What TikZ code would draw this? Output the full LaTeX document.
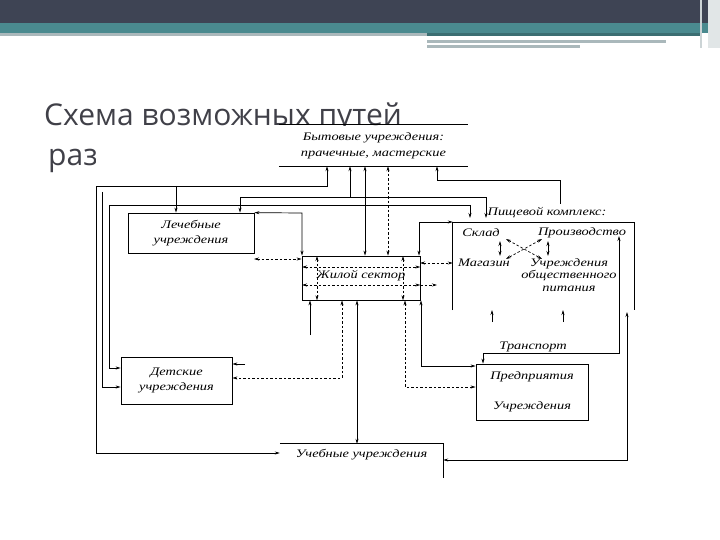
\documentclass[tikz,border=0pt]{standalone}
\usepackage{fontspec}
\setmainfont{Liberation Serif}
\newfontfamily\titlefont{Open Sans}
\newfontfamily\diagfont[FakeStretch=1.25]{Liberation Serif}
\usetikzlibrary{arrows.meta,positioning}
\definecolor{Band}{HTML}{3E4454}
\definecolor{Stripe}{HTML}{4A8A8F}
\definecolor{Pale}{HTML}{AAB8BB}
\definecolor{Ink}{HTML}{404048}

\begin{document}
\begin{tikzpicture}[x=1pt,y=-1pt,
    lbl/.style={font=\diagfont\itshape\fontsize{11.5}{15}\selectfont, inner sep=0pt, align=center},
    unit/.style={lbl, draw, line width=0.7pt},
    ln/.style={line width=0.7pt},
    arr/.style={ln, -{Stealth[length=5pt,width=3pt]}},
    dbl/.style={ln, {Stealth[length=5pt,width=3pt]}-{Stealth[length=5pt,width=3pt]}},
    dsh/.style={dbl, dashed, dash pattern=on 2.5pt off 2pt}
  ]
  % slide
  \useasboundingbox (0,0) rectangle (720,540);
  \fill[Band] (0,0) rectangle (720,23);
  \fill[Stripe] (0,23) rectangle (720,33);
  \fill[Pale] (0,33) rectangle (427,36);
  \fill[Stripe!80!black] (427,33) rectangle (700,36);
  \fill[Pale] (427,40) rectangle (666,43);
  \fill[Pale] (427,45) rectangle (580,48);
  \fill[Pale!60] (700,0) rectangle (702,48);
  \fill[Pale!35] (708,0) rectangle (720,48);
  \node[font=\titlefont\fontsize{30}{36}\selectfont, text=Ink, anchor=base west, inner sep=0pt, text depth=0pt] (title) at (44,126) {Схема возможных путей};
  \node[font=\titlefont\fontsize{30}{36}\selectfont, text=Ink, anchor=base west, inner sep=0pt] (title2) at (48,166) {раз};
  \fill[white] (96,126) rectangle (640,485);

  % units
  \node[lbl, font=\diagfont\itshape\fontsize{11.5}{16}\selectfont, minimum width=189pt, minimum height=40pt] (byt) at (373.5,146) {Бытовые учреждения:\\прачечные, мастерские};
  \draw[ln] (byt.north west) ++(0,-1) -- ++(189,0);
  \draw[ln] (byt.south west) -- (byt.south east);
  \node[unit, minimum width=126pt, minimum height=40pt] (lech) at (191,233) {Лечебные\\учреждения};
  \node[draw, ln, minimum width=118pt, minimum height=44pt] (zh) at (361,278) {};
  \node[lbl] (zht) at (361,275.5) {Жилой сектор};
  \node[unit, minimum width=111pt, minimum height=47pt] (det) at (176.5,380.5) {Детские\\учреждения};
  \node[unit, minimum width=112pt, minimum height=56pt, font=\diagfont\itshape\fontsize{11.5}{30}\selectfont] (pred) at (532,392) {Предприятия\\Учреждения};
  \node[lbl, minimum width=163pt, minimum height=22pt] (ucheb) at (361.5,455) {Учебные учреждения};
  \draw[ln] (ucheb.north west) -- (ucheb.north east) -- ++(0,34);
  \node[lbl, anchor=base] (pisht) at (547,215) {Пищевой комплекс:};
  \node[minimum width=181pt, minimum height=87pt, inner sep=0pt] (pish) at (543.5,266.5) {};
  \draw[ln] (pish.south west) -- (pish.north west) -- (pish.north east) -- (pish.south east);
  \node[lbl] (sklad) at (481,233) {Склад};
  \node[lbl] (proizv) at (582,233) {Производство};
  \node[lbl] (magaz) at (484,263) {Магазин};
  \node[lbl, font=\diagfont\itshape\fontsize{11.5}{12.5}\selectfont] (uchr) at (569,275) {Учреждения\\общественного\\питания};
  \node[lbl, anchor=base] (trans) at (533,349) {Транспорт};

  % inner grid of the residential sector
  \coordinate (g1) at (317,256); \coordinate (g2) at (403,256);
  \coordinate (h1) at (302,267); \coordinate (h2) at (302,285);
  \draw[dsh] (g1) -- (g1 |- zh.south);
  \draw[dsh] (g2) -- (g2 |- zh.south);
  \draw[dsh] (h1) -- (h1 -| zh.east);
  \draw[dsh] (h2) -- (h2 -| zh.east);
  \coordinate (h3) at (437,285);
  \draw[ln, dashed, dash pattern=on 2.5pt off 2pt, -{Stealth[length=5pt,width=3pt]}] (h2 -| zh.east) -- (h3);

  % links to the household services
  \coordinate (a1) at (327,186); \coordinate (a2) at (96,186); \coordinate (a3) at (96,453);
  \draw[dbl] (byt.south -| a1) -- (a1) -- (a2) -- (a3) -- (a3 -| ucheb.west);
  \coordinate (a4) at (176,186);
  \draw[arr] (a4) -- (a4 |- lech.north);
  \coordinate (b1) at (240,197); \coordinate (b2) at (486,197); \coordinate (b3) at (486,218);
  \draw[dbl] (b1 |- lech.north) -- (b1) -- (b2) -- (b3);
  \coordinate (b4) at (350,197);
  \draw[arr] (b4) -- (b4 |- byt.south);
  \coordinate (c1) at (109,205); \coordinate (c2) at (470,205); \coordinate (c3) at (470,218);
  \coordinate (c4) at (109,368);
  \draw[ln] (c1) -- (c2);
  \draw[arr] (c2) -- (c3);
  \draw[arr] (c1) -- (c4) -- (c4 -| det.west);
  \coordinate (d1) at (102,192); \coordinate (d2) at (102,387);
  \draw[arr] (d1) -- (d2) -- (d2 -| det.west);
  \coordinate (e1) at (365,200); \coordinate (e2) at (388,200);
  \draw[dbl] (e1 |- byt.south) -- (e1 |- zh.north);
  \draw[dsh] (e2 |- byt.south) -- (e2 |- zh.north);
  \coordinate (f1) at (437,180); \coordinate (f2) at (560,180); \coordinate (f3) at (560,204);
  \draw[ln, {Stealth[length=5pt,width=3pt]}-] (f1 |- byt.south) -- (f1) -- (f2) -- (f3);

  % residential sector links
  \coordinate (k1) at (302,213);
  \draw[dbl] (lech.north east) -- (k1) -- (k1 |- zh.north);
  \coordinate (k2) at (254,259);
  \draw[dsh] (k2) -- (k2 -| zh.west);
  \coordinate (k3) at (419,222);
  \draw[dbl] (k3 |- zh.north) -- (k3) -- (k3 -| pish.west);
  \coordinate (k4) at (420,263);
  \draw[dsh] (k4) -- (k4 -| pish.west);
  \coordinate (m1) at (310,335);
  \draw[arr] (m1) -- (m1 |- zh.south);
  \coordinate (m2) at (342,378);
  \draw[dsh] (m2 |- zh.south) -- (m2) -- (m2 -| det.east);
  \coordinate (m3) at (357,400);
  \draw[dbl] (m3 |- zh.south) -- (m3 |- ucheb.north);
  \coordinate (m4) at (405,387);
  \draw[dsh] (m4 |- zh.south) -- (m4) -- (m4 -| pred.west);
  \coordinate (m5) at (421,366);
  \draw[dbl] (m5 |- zh.south) -- (m5) -- (m5 -| pred.west);
  \coordinate (m6) at (245,364);
  \draw[arr] (m6) -- (m6 -| det.east);

  % food complex
  \coordinate (p1) at (500,241); \coordinate (p2) at (500,256);
  \draw[dbl] (p1) -- (p2);
  \coordinate (p3) at (548,241); \coordinate (p4) at (548,256);
  \draw[dbl] (p3) -- (p4);
  \coordinate (q1) at (506,239); \coordinate (q2) at (542,259);
  \coordinate (q3) at (542,239); \coordinate (q4) at (506,259);
  \draw[dsh] (q1) -- (q2);
  \draw[dsh] (q3) -- (q4);
  \coordinate (r1) at (492,322); \coordinate (r2) at (563,322);
  \draw[arr] (r1) -- ++(0,-12);
  \draw[arr] (r2) -- ++(0,-12);
  \coordinate (s1) at (619,236); \coordinate (s2) at (619,353); \coordinate (s3) at (483,353);
  \draw[dbl] (s1) -- (s2) -- (s3) -- (s3 |- pred.north);
  \coordinate (t1) at (627,312); \coordinate (t2) at (627,460);
  \draw[dbl] (t1) -- (t2) -- (t2 -| ucheb.east);
\end{tikzpicture}
\end{document}
